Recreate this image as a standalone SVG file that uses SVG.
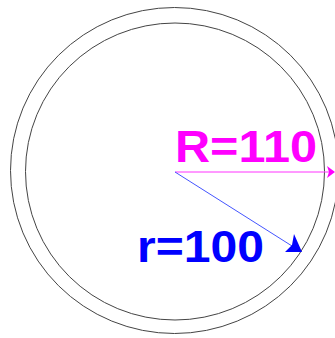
<svg xmlns="http://www.w3.org/2000/svg" width="335" height="338" viewBox="0 0 335 338">
  <style>
    .ring { fill: none; stroke: #444; stroke-width: 1; }
    .lbl { font-family: "Liberation Sans", Arial, sans-serif; font-weight: bold; font-size: 44px; }
  </style>
  <rect width="335" height="338" fill="#fff"/>
  <g id="outer-circle">
    <ellipse class="ring" cx="174.5" cy="170.5" rx="164" ry="163"/>
  </g>
  <g id="inner-circle">
    <ellipse class="ring" cx="175" cy="171.5" rx="149.5" ry="148.5"/>
  </g>
  <g id="connectors">
    <line x1="175" y1="172" x2="330" y2="172" stroke="#ff33ff" stroke-width="1"/>
    <polygon points="335,172 327,166 329,172 327,178" fill="#ff00ff"/>
    <line x1="175" y1="172" x2="292" y2="246" stroke="#4455ff" stroke-width="1"/>
    <polygon points="302,252 294,234 292,245 285,252" fill="#0000ff"/>
  </g>
  <g id="label-R">
    <text class="lbl" x="175" y="162" fill="#ff00ff" textLength="142" lengthAdjust="spacingAndGlyphs">R=110</text>
  </g>
  <g id="label-r">
    <text class="lbl" x="137" y="262" fill="#0000ff" textLength="127" lengthAdjust="spacingAndGlyphs">r=100</text>
  </g>
</svg>
